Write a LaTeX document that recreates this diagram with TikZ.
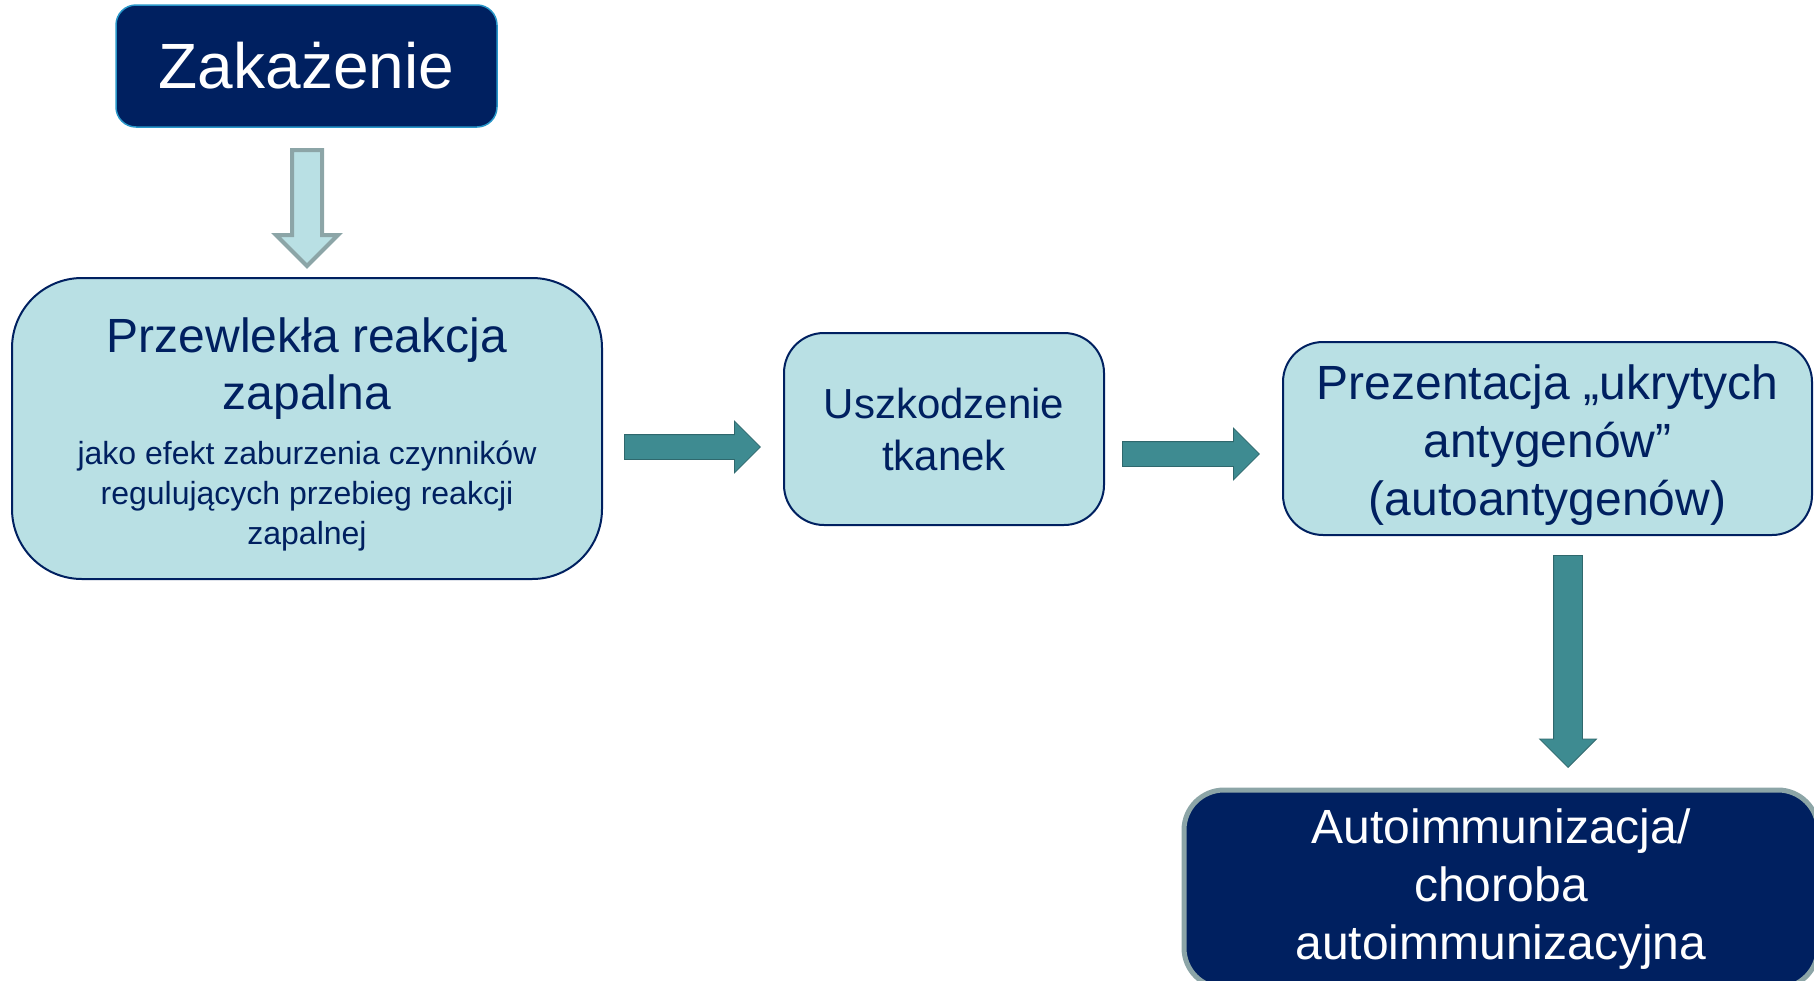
\documentclass[tikz,border=0pt]{standalone}
\usepackage{fontspec}
\setmainfont{Liberation Sans}
\usetikzlibrary{shapes.arrows}
\definecolor{navy}{RGB}{0,32,96}
\definecolor{paleblue}{RGB}{185,224,228}
\definecolor{tealarrow}{RGB}{62,139,145}
\definecolor{greyteal}{RGB}{140,165,167}
\definecolor{edgeblue}{RGB}{40,150,200}
\newcommand{\bigline}{\fontsize{24}{29}\selectfont}
\newcommand{\smallline}{\fontsize{16}{20}\selectfont}
\begin{document}
\begin{tikzpicture}[x=0.5pt,y=-0.5pt,
    infobox/.style={rectangle,rounded corners=#1,draw=navy,line width=1pt,fill=paleblue,text=navy,align=center,inner sep=0pt},
    darkbox/.style={rectangle,rounded corners=#1,fill=navy,text=white,align=center,inner sep=0pt},
    flowarrow/.style={single arrow,anchor=tail,inner sep=0pt,fill=tealarrow,draw=tealarrow!75!black,line width=0.4pt},
    hollowarrow/.style={single arrow,anchor=tail,inner sep=0pt,fill=paleblue,draw=greyteal,line width=2pt}]
  \useasboundingbox (0,0) rectangle (1814,980);

  \node[darkbox=10pt,draw=edgeblue,line width=0.75pt,minimum width=190.5pt,minimum height=61pt,
    font=\fontsize{32}{38}\selectfont] (infection) at (306.5,66) {Zakażenie};
  \node[infobox=35pt,minimum width=295pt,minimum height=150.5pt] (inflammation) at (307,428.5)
    {\bigline\rule{0pt}{23.5pt}Przewlekła reakcja\\[5pt]\bigline zapalna\\[10pt]
     \smallline jako efekt zaburzenia czynników\\[4pt]\smallline regulujących przebieg reakcji\\[4pt]\smallline zapalnej};
  \node[infobox=20pt,minimum width=160pt,minimum height=96pt,
    font=\fontsize{21}{26}\selectfont] (damage) at (944,429) {Uszkodzenie\\tkanek};
  \node[infobox=20pt,minimum width=264.5pt,minimum height=96.5pt,
    font=\fontsize{24}{29}\selectfont] (antigens) at (1547.5,438.5) {\rule{0pt}{23.5pt}Prezentacja „ukrytych\\antygenów”\\(autoantygenów)};
  \node[darkbox=20pt,draw=greyteal,line width=2.5pt,minimum width=317pt,minimum height=99pt,
    font=\fontsize{24}{29}\selectfont] (autoimmunity) at (1501,889) {Autoimmunizacja/\\choroba\\autoimmunizacyjna};

  % block arrows
  \node[hollowarrow,shape border rotate=270,minimum height=58pt,inner xsep=6.5pt,single arrow head extend=8pt] (arrowdown) at (307,148) {};
  \node[flowarrow,minimum height=68pt,inner ysep=6pt,single arrow head extend=6.75pt] (arrowone) at (624,447) {};
  \node[flowarrow,minimum height=68.5pt,inner ysep=6pt,single arrow head extend=6.75pt] (arrowtwo) at (1122,454) {};
  \node[flowarrow,shape border rotate=270,minimum height=106pt,inner xsep=7pt,single arrow head extend=7pt] (arrowthree) at (1568,555) {};
\end{tikzpicture}
\end{document}
